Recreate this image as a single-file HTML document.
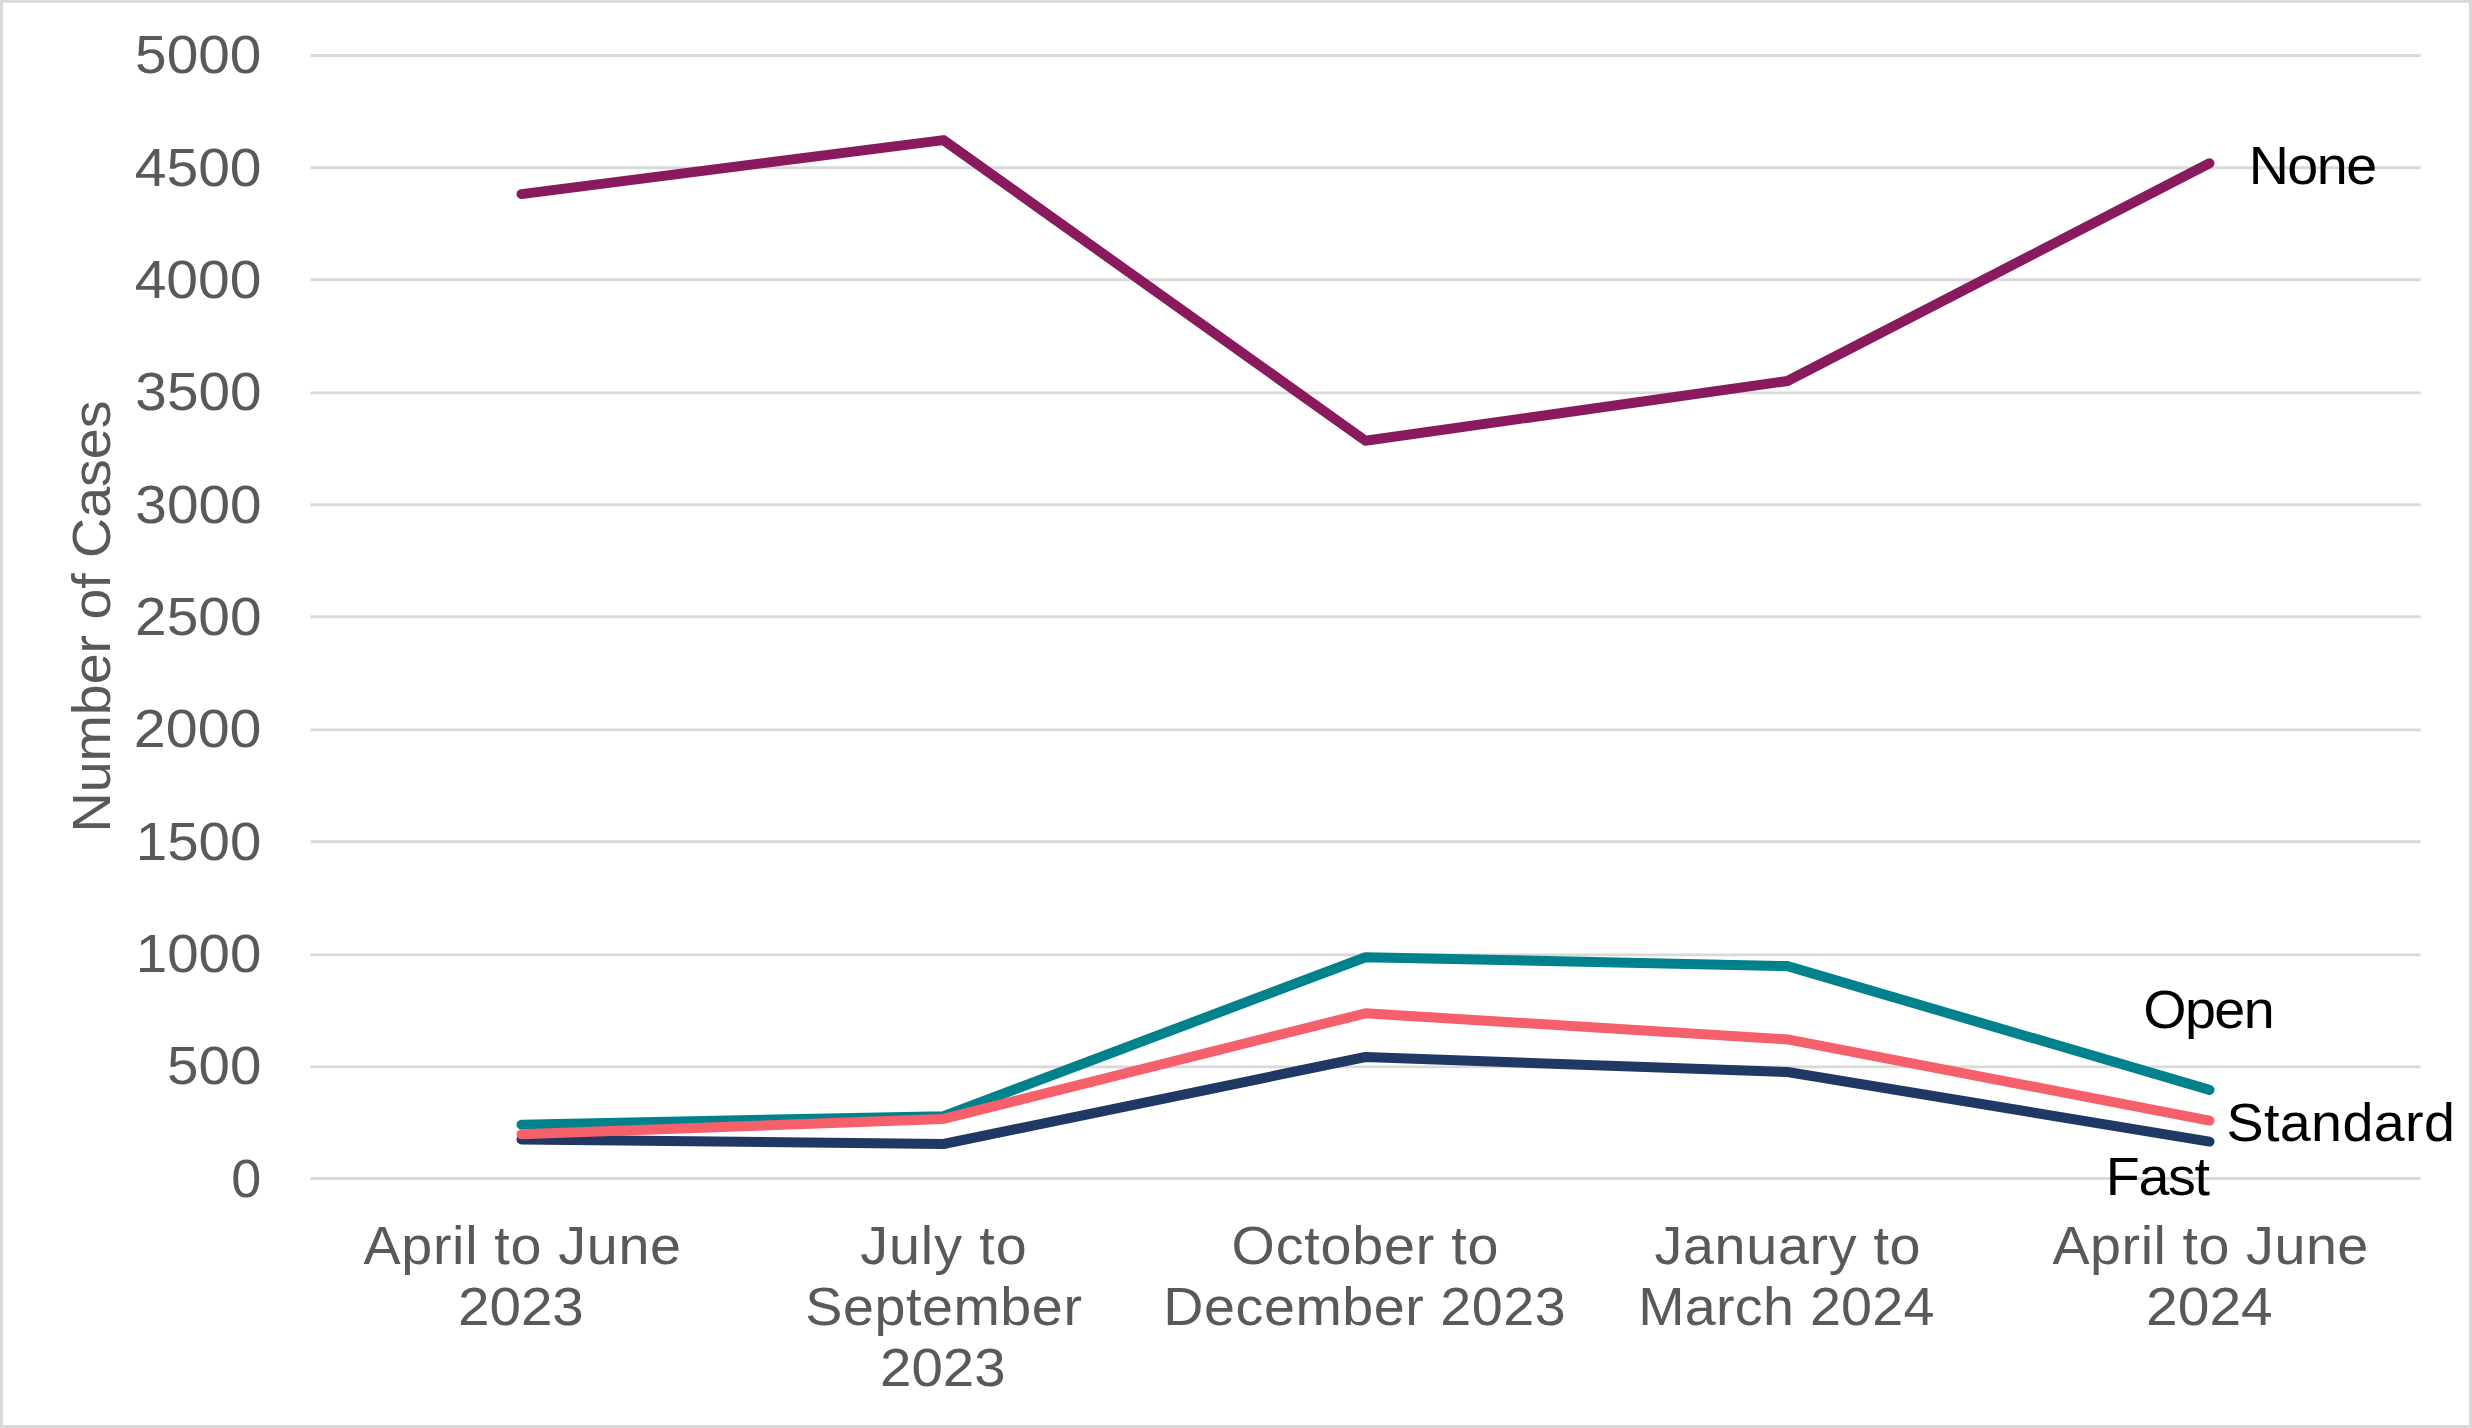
<!DOCTYPE html>
<html lang="en"><head><meta charset="utf-8"><title>Number of Cases by quarter</title>
<style>
html,body{margin:0;padding:0;background:#fff;}
body{width:2472px;height:1428px;overflow:hidden;}
svg{display:block;}
text{font-family:"Liberation Sans",sans-serif;font-size:53.0px;}
</style></head><body>
<svg width="2472" height="1428" viewBox="0 0 2472 1428" role="img" aria-label="Line chart: Number of Cases by quarter for None, Open, Standard and Fast">
<rect x="0" y="0" width="2472" height="1428" fill="#ffffff"/>
<g id="border" fill="#d9d9d9"><rect x="0" y="0" width="2472" height="2.8"/><rect x="0" y="1425.1" width="2472" height="2.9"/><rect x="0" y="0" width="2.9" height="1428"/><rect x="2469" y="0" width="3" height="1428"/></g>
<g id="grid" stroke="#d9d9d9" stroke-width="2.9" fill="none">
<line x1="310.5" y1="1178.55" x2="2420.6" y2="1178.55"/>
<line x1="310.5" y1="1066.90" x2="2420.6" y2="1066.90"/>
<line x1="310.5" y1="954.90" x2="2420.6" y2="954.90"/>
<line x1="310.5" y1="841.75" x2="2420.6" y2="841.75"/>
<line x1="310.5" y1="729.90" x2="2420.6" y2="729.90"/>
<line x1="310.5" y1="616.75" x2="2420.6" y2="616.75"/>
<line x1="310.5" y1="504.75" x2="2420.6" y2="504.75"/>
<line x1="310.5" y1="392.90" x2="2420.6" y2="392.90"/>
<line x1="310.5" y1="279.75" x2="2420.6" y2="279.75"/>
<line x1="310.5" y1="167.75" x2="2420.6" y2="167.75"/>
<line x1="310.5" y1="55.50" x2="2420.6" y2="55.50"/>
</g>
<g id="series" fill="none" stroke-width="10" stroke-linecap="round" stroke-linejoin="round">
<polyline stroke="#1f3864" points="521.5,1139.5 943.5,1144.0 1365.5,1057.0 1787.5,1072.0 2209.5,1141.6"/>
<polyline stroke="#00828c" points="521.5,1124.7 943.5,1116.2 1365.5,957.2 1787.5,966.1 2209.5,1089.9"/>
<polyline stroke="#8a1a5e" points="521.5,194.1 943.5,140.1 1365.5,440.8 1787.5,381.0 2209.5,163.2"/>
<polyline stroke="#f5606b" points="521.5,1134.3 943.5,1118.9 1365.5,1013.3 1787.5,1039.4 2209.5,1120.6"/>
</g>
<g id="labels">
<text id="t5000" x="135.13" y="73.00" fill="#595959" textLength="126.19" lengthAdjust="spacingAndGlyphs">5000</text>
<text id="t4500" x="134.80" y="186.00" fill="#595959" textLength="126.76" lengthAdjust="spacingAndGlyphs">4500</text>
<text id="t4000" x="134.65" y="298.00" fill="#595959" textLength="126.79" lengthAdjust="spacingAndGlyphs">4000</text>
<text id="t3500" x="135.37" y="410.00" fill="#595959" textLength="126.17" lengthAdjust="spacingAndGlyphs">3500</text>
<text id="t3000" x="135.37" y="523.00" fill="#595959" textLength="126.17" lengthAdjust="spacingAndGlyphs">3000</text>
<text id="t2500" x="135.09" y="635.00" fill="#595959" textLength="126.42" lengthAdjust="spacingAndGlyphs">2500</text>
<text id="t2000" x="133.85" y="747.00" fill="#595959" textLength="127.69" lengthAdjust="spacingAndGlyphs">2000</text>
<text id="t1500" x="135.75" y="860.00" fill="#595959" textLength="125.64" lengthAdjust="spacingAndGlyphs">1500</text>
<text id="t1000" x="135.75" y="972.00" fill="#595959" textLength="125.64" lengthAdjust="spacingAndGlyphs">1000</text>
<text id="t500" x="167.03" y="1084.00" fill="#595959" textLength="94.31" lengthAdjust="spacingAndGlyphs">500</text>
<text id="t0" x="231.31" y="1197.00" fill="#595959" textLength="30.03" lengthAdjust="spacingAndGlyphs">0</text>
<text id="a1" transform="translate(363.48 1264.00) scale(1.05 1)" x="0" y="0" fill="#595959" textLength="302.38" lengthAdjust="spacing">April to June</text>
<text id="a2" x="457.93" y="1325.00" fill="#595959" textLength="125.94" lengthAdjust="spacingAndGlyphs">2023</text>
<text id="b1" transform="translate(860.19 1264.00) scale(1.05 1)" x="0" y="0" fill="#595959" textLength="158.56" lengthAdjust="spacing">July to</text>
<text id="b2" transform="translate(805.21 1325.00) scale(1.05 1)" x="0" y="0" fill="#595959" textLength="263.52" lengthAdjust="spacing">September</text>
<text id="b3" x="880.09" y="1386.00" fill="#595959" textLength="125.56" lengthAdjust="spacingAndGlyphs">2023</text>
<text id="c1" transform="translate(1231.61 1264.00) scale(1.05 1)" x="0" y="0" fill="#595959" textLength="254.20" lengthAdjust="spacing">October to</text>
<text id="c2" transform="translate(1163.35 1325.00) scale(1.05 1)" x="0" y="0" fill="#595959" textLength="383.24" lengthAdjust="spacing">December 2023</text>
<text id="d1" transform="translate(1654.49 1264.00) scale(1.05 1)" x="0" y="0" fill="#595959" textLength="253.36" lengthAdjust="spacing">January to</text>
<text id="d2" transform="translate(1638.23 1325.00) scale(1.05 1)" x="0" y="0" fill="#595959" textLength="282.12" lengthAdjust="spacing">March 2024</text>
<text id="e1" transform="translate(2052.44 1264.00) scale(1.05 1)" x="0" y="0" fill="#595959" textLength="300.84" lengthAdjust="spacing">April to June</text>
<text id="e2" x="2146.04" y="1325.00" fill="#595959" textLength="126.70" lengthAdjust="spacingAndGlyphs">2024</text>
<text id="lnone" transform="translate(2248.64 183.60) scale(1.05 1)" x="0" y="0" fill="#000" textLength="122.47" lengthAdjust="spacing">None</text>
<text id="lopen" transform="translate(2143.25 1028.00) scale(1.05 1)" x="0" y="0" fill="#000" textLength="125.07" lengthAdjust="spacing">Open</text>
<text id="lstd" transform="translate(2226.53 1141.00) scale(1.05 1)" x="0" y="0" fill="#000" textLength="217.45" lengthAdjust="spacing">Standard</text>
<text id="lfast" transform="translate(2105.84 1195.00) scale(1.05 1)" x="0" y="0" fill="#000" textLength="99.16" lengthAdjust="spacing">Fast</text>
<text id="ytitle" transform="translate(110.20 832.38) rotate(-90) scale(1.05 1)" x="0" y="0" fill="#595959" textLength="411.32" lengthAdjust="spacing">Number of Cases</text>
</g>
</svg>
</body></html>
